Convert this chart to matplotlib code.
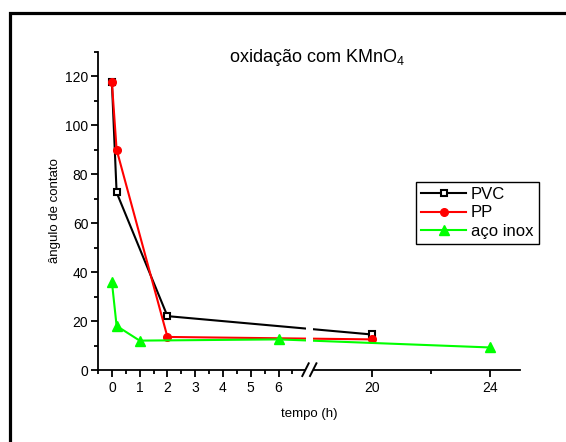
import numpy as np
import matplotlib
matplotlib.use("Agg")
import matplotlib.pyplot as plt
from matplotlib.lines import Line2D
from matplotlib.patches import Rectangle

plt.rcParams['font.family'] = ['Liberation Sans', 'DejaVu Sans']

# ---- data ----
time_pvc = [0, 0.17, 2, 20]
pvc = [117.5, 72.5, 22, 14.5]
time_pp = [0, 0.17, 2, 20]
pp = [117.5, 90, 13.5, 12.5]
time_inox = [0, 0.17, 1, 6, 24]
inox = [36, 18, 12, 12.5, 9.2]

x_major = [0, 1, 2, 3, 4, 5, 6, 20, 24]
x_minor = [-0.5, 0.5, 1.5, 2.5, 3.5, 4.5, 5.5, 6.5, 22]
x_labels = ['0', '1', '2', '3', '4', '5', '6', '20', '24']
y_major = [0, 20, 40, 60, 80, 100, 120]
y_minor = [10, 30, 50, 70, 90, 110, 130]

# broken-axis mapping (piecewise linear)
_xd = [-100, 7, 17.97, 100]
_xu = [-100, 7, 7.2, 9.363 + 80 * 1.066]

def fwd(x):
    return np.interp(x, _xd, _xu)

def inv(u):
    return np.interp(u, _xu, _xd)

W, H = 566, 442
fig = plt.figure(figsize=(W / 100, H / 100), dpi=100)
ax = fig.add_axes([98 / W, 1 - 370 / H, 422 / W, (370 - 51.7) / H])
ax.set_xscale('function', functions=(fwd, inv))

lw = 1.5
ax.plot(time_pvc, pvc, color='black', lw=lw, marker='s', ms=4.5,
        mfc='white', mec='black', mew=1.5, label='PVC', zorder=3)
ax.plot(time_pp, pp, color='#ff0000', lw=lw, marker='o', ms=5.5,
        mfc='#ff0000', mec='#ff0000', label='PP', zorder=4)
ax.plot(time_inox, inox, color='#00ff00', lw=lw, marker='^', ms=7,
        mfc='#00ff00', mec='#00ff00', label='aço inox', zorder=5)

ax.set_xlim(-0.5, 25)
ax.set_ylim(0, 130)
ax.set_xticks(x_major)
ax.set_xticklabels(x_labels)
ax.set_xticks(x_minor, minor=True)
ax.set_yticks(y_major)
ax.set_yticks(y_minor, minor=True)

for s in ['top', 'right']:
    ax.spines[s].set_visible(False)
for s in ['left', 'bottom']:
    ax.spines[s].set_linewidth(1.3)
ax.tick_params(which='major', direction='out', length=5, width=1.3,
               labelsize=10, pad=2, colors='black')
ax.tick_params(which='minor', direction='out', length=3, width=1.3)
ax.tick_params(axis='x', which='major', pad=3)

ax.set_xlabel('tempo (h)', fontsize=9.5, labelpad=9)
ax.set_ylabel('ângulo de contato', fontsize=9.5, labelpad=3)

ax.text(0.519, 0.983, 'oxidação com KMnO$\\mathregular{_4}$', transform=ax.transAxes,
        ha='center', va='center', fontsize=13)

leg = ax.legend(loc='upper left', bbox_to_anchor=((416 - 98) / 422, (370 - 182) / 318.3),
                borderaxespad=0, fontsize=12, frameon=True, fancybox=False,
                edgecolor='black', framealpha=1, handlelength=2.7,
                handletextpad=0.3, labelspacing=0.2, borderpad=0.3)
leg.get_frame().set_linewidth(1.0)

# break: white gap and slashes
ax.add_patch(Rectangle((0.4929, -0.02), 0.0154, 0.3, transform=ax.transAxes,
                       facecolor='white', edgecolor='none', zorder=6, clip_on=False))
for x0 in (0.4841, 0.5024):
    ax.add_line(Line2D([x0, x0 + 0.0152], [-0.0189, 0.021], transform=ax.transAxes,
                       color='black', lw=1.4, zorder=7, clip_on=False))

# outer frame (right/bottom edges outside the image)
fig.add_artist(Line2D([9.5 / W, 9.5 / W, 1.02], [-0.02, 1 - 12.5 / H, 1 - 12.5 / H],
                      transform=fig.transFigure, color='black', lw=2.3,
                      solid_joinstyle='miter'))

fig.savefig('out.png', dpi=100)
